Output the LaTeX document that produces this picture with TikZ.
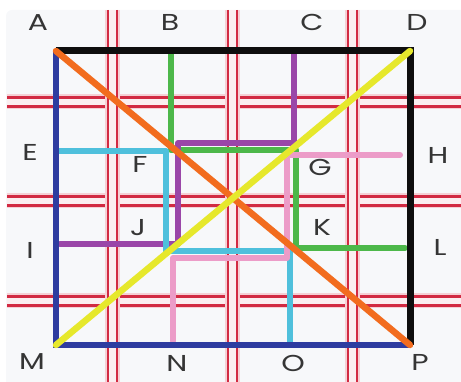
\documentclass[tikz,border=0pt]{standalone}
\usepackage{fontspec}
\setmainfont{Poppins}
\definecolor{gridred}{HTML}{D22A42}
\definecolor{bgcol}{HTML}{F7F8FA}
\definecolor{labelgray}{HTML}{353535}
\definecolor{lblack}{HTML}{0E0E0E}
\definecolor{lblue}{HTML}{2E3CA0}
\definecolor{lorange}{HTML}{F26C1E}
\definecolor{lyellow}{HTML}{E6E82C}
\definecolor{lgreen}{HTML}{4DB84A}
\definecolor{lpurple}{HTML}{9A46A8}
\definecolor{lcyan}{HTML}{4FC0DC}
\definecolor{lpink}{HTML}{EC9CC8}
\begin{document}
\begin{tikzpicture}[x=1pt,y=-1pt,
  lbl/.style={font=\fontsize{23}{23}\selectfont, text=labelgray, xscale=1.3, inner sep=0pt},
  route/.style={line width=6pt, line cap=round, line join=round},
  redline/.style={gridred, line width=2.8pt},
  redhalo/.style={fill=gridred!22},
  redmid/.style={fill=gridred!8}]
\useasboundingbox (0,0) rectangle (461,382);
\fill[bgcol, rounded corners=6pt] (6,10) rectangle (470,392);
% red grid, horizontal
\foreach \y in {102,201,301}{
  \fill[redhalo] (7,\y-7.5) rectangle (461,\y+7.5);
  \fill[redmid] (7,\y-3.5) rectangle (461,\y+3.5);
  \draw[redline] (7,\y-4.5) -- (461,\y-4.5);
  \draw[redline] (7,\y+4.5) -- (461,\y+4.5);
}
% red grid, vertical
\foreach \x in {112.5,232.5,352.5}{
  \fill[redhalo] (\x-7.5,10) rectangle (\x+7.5,382);
  \fill[redmid] (\x-3.5,10) rectangle (\x+3.5,382);
  \draw[redline] (\x-4.5,10) -- (\x-4.5,382);
  \draw[redline] (\x+4.5,10) -- (\x+4.5,382);
}
% corner coordinates
\coordinate (A) at (56,51);
\coordinate (D) at (410,51);
\coordinate (M) at (56,345);
\coordinate (P) at (410,345);
\coordinate (Bt) at (171,51);
\coordinate (Ct) at (294,51);
\coordinate (El) at (56,151);
\coordinate (Hr) at (400,155);
\coordinate (Il) at (60,244);
\coordinate (Lr) at (405,248);
\coordinate (Nb) at (173,341);
\coordinate (Ob) at (290,345);
% coloured routes
\draw[route, lgreen] (Bt) -- (171,150) -- (296,150) -- (296,248) -- (Lr);
\draw[route, lpurple] (Ct) -- (294,143) -- (178,143) -- (178,244) -- (Il);
\draw[route, lcyan] (El) -- (166,151) -- (166,251) -- (290,251) -- (Ob);
\draw[route, lpink] (Hr) -- (287,155) -- (287,258) -- (173,258) -- (Nb);
% square
\draw[lblack, line width=7pt, line join=miter] (A) -- (D) -- (P);
\draw[lblue, line width=6pt, line join=miter] (A) -- (M) -- (P);
% diagonals
\draw[lorange, line width=6.5pt, line cap=round] (A) -- (P);
\draw[lyellow, line width=6.5pt, line cap=round] (M) -- (D);
% labels
\node[lbl] (lA) at (38,23) {A};
\node[lbl] (lB) at (170,22) {B};
\node[lbl] (lC) at (312,22) {C};
\node[lbl] (lD) at (417,22) {D};
\node[lbl] (lE) at (30,152) {E};
\node[lbl] (lF) at (140,164) {F};
\node[lbl] (lG) at (320,167) {G};
\node[lbl] (lH) at (438,155) {H};
\node[lbl] (lI) at (30,250) {I};
\node[lbl] (lJ) at (138,228) {J};
\node[lbl] (lK) at (322,227) {K};
\node[lbl] (lL) at (440,247) {L};
\node[lbl] (lM) at (32,362) {M};
\node[lbl] (lN) at (177,363) {N};
\node[lbl] (lO) at (293,363) {O};
\node[lbl] (lP) at (420,362) {P};
\end{tikzpicture}
\end{document}
